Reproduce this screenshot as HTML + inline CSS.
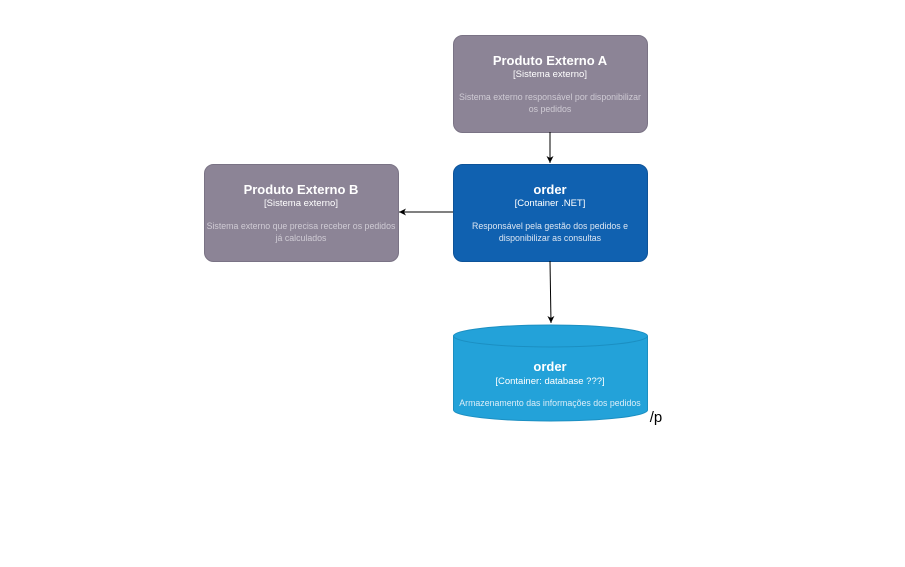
<!DOCTYPE html>
<html><head><meta charset="utf-8"><style>
html,body{margin:0;padding:0;background:#fff;width:905px;height:567px;overflow:hidden}
svg{display:block}
text{font-family:"Liberation Sans",sans-serif;text-anchor:middle}
.t{font-size:13px;font-weight:bold;fill:#fff}
.s{font-size:9.5px;fill:#fff}
.d{font-size:8.8px}
</style></head><body>
<svg width="905" height="567" viewBox="0 0 905 567">
<defs><marker id="a" markerWidth="8" markerHeight="8" refX="7" refY="4" orient="auto" markerUnits="userSpaceOnUse"><path d="M0,0.5 L7,4 L0,7.5 L2,4 Z" fill="#000"/></marker></defs>
<rect x="453.5" y="35.5" width="194" height="97" rx="9" fill="#8c8496" stroke="#7a7385"/>
<text class="t" x="550" y="65">Produto Externo A</text>
<text class="s" x="550" y="77">[Sistema externo]</text>
<text class="d" x="550" y="100" fill="#cfcbd4">Sistema externo responsável por disponibilizar</text>
<text class="d" x="550" y="112" fill="#cfcbd4">os pedidos</text>
<rect x="453.5" y="164.5" width="194" height="97" rx="9" fill="#1061b0" stroke="#0d5399"/>
<text class="t" x="550" y="194">order</text>
<text class="s" x="550" y="206">[Container .NET]</text>
<text class="d" x="550" y="229" fill="#dce6f2">Responsável pela gestão dos pedidos e</text>
<text class="d" x="550" y="241" fill="#dce6f2">disponibilizar as consultas</text>
<rect x="204.5" y="164.5" width="194" height="97" rx="9" fill="#8c8496" stroke="#7a7385"/>
<text class="t" x="301" y="194">Produto Externo B</text>
<text class="s" x="301" y="206">[Sistema externo]</text>
<text class="d" x="301" y="229" fill="#cfcbd4">Sistema externo que precisa receber os pedidos</text>
<text class="d" x="301" y="241" fill="#cfcbd4">já calculados</text>
<path d="M453.5,336 A97,11 0 0 1 647.5,336 L647.5,410 A97,11 0 0 1 453.5,410 Z" fill="#23a2d9" stroke="#1b8fc2"/>
<path d="M453.5,336 A97,11 0 0 0 647.5,336" fill="none" stroke="#1b8fc2"/>
<text class="t" x="550" y="371">order</text>
<text class="s" x="550" y="384">[Container: database ???]</text>
<text class="d" x="550" y="406" fill="#dceef8">Armazenamento das informações dos pedidos</text>
<text x="656" y="422" style="font-size:15px;fill:#000">/p</text>
<line x1="550" y1="132" x2="550" y2="163" stroke="#000" marker-end="url(#a)"/>
<line x1="453" y1="212" x2="399" y2="212" stroke="#000" marker-end="url(#a)"/>
<line x1="550" y1="261" x2="551" y2="323" stroke="#000" marker-end="url(#a)"/>
</svg>
</body></html>
